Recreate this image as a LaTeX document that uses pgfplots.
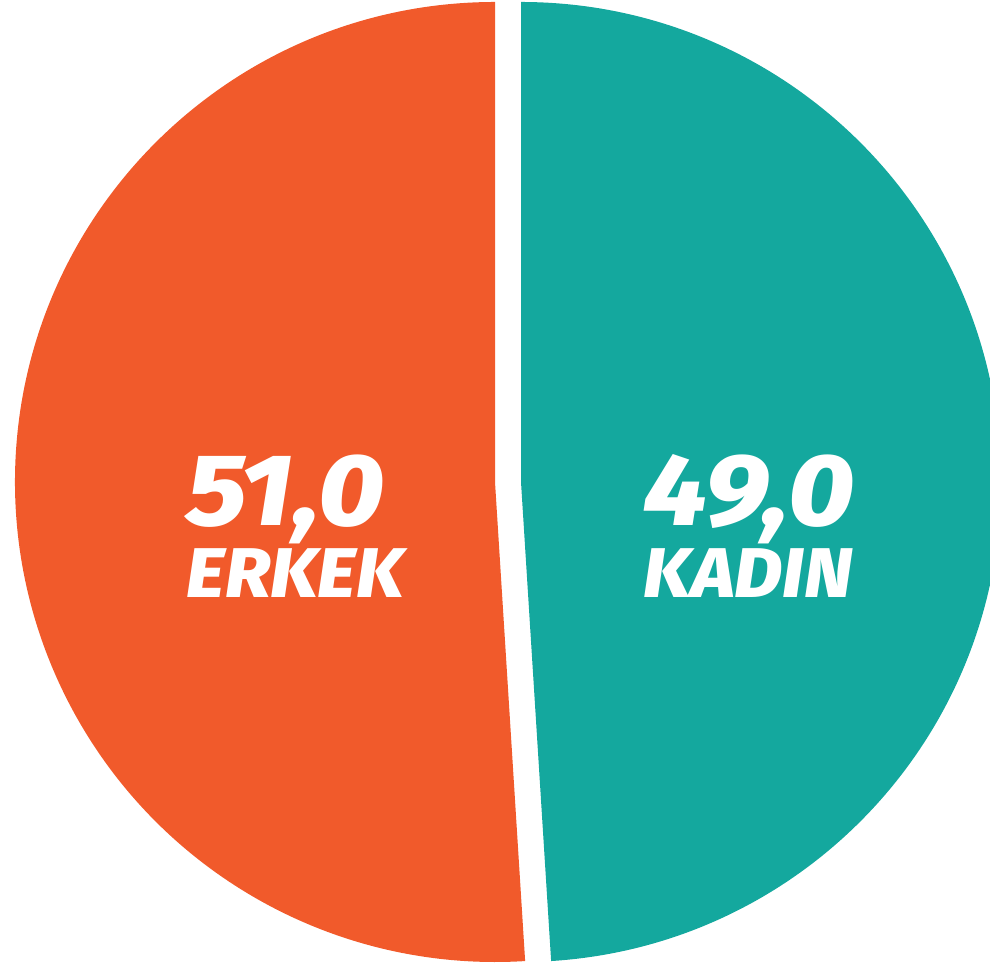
\documentclass[border=0pt]{standalone}
\usepackage{fontspec}
\setmainfont{Fira Sans}
\newfontfamily\lab{Fira Sans ExtraBold Italic}[FakeStretch=1.06]
\newfontfamily\num{Fira Sans ExtraBold Italic}[FakeStretch=1.11]
\usepackage{pgfplots}
\pgfplotsset{compat=1.18}
\definecolor{erkek}{HTML}{F15A2B}
\definecolor{kadin}{HTML}{14A89E}
\begin{document}
\begin{tikzpicture}
\begin{axis}[
  width=9.9cm, height=9.64cm, scale only axis,
  xmin=0, xmax=990, ymin=0, ymax=964,
  hide axis, clip=true,
]
% values (percent)
\pgfmathsetmacro{\vErkek}{51.0}
\pgfmathsetmacro{\vKadin}{49.0}
\pgfmathsetmacro{\aErkek}{3.6*\vErkek}
\pgfmathsetmacro{\aKadin}{3.6*\vKadin}
\def\R{4.8cm}
\fill[erkek] (axis cs:495,482) -- ++(90:\R) arc[start angle=90, delta angle=\aErkek, radius=\R] -- cycle;
\fill[kadin] (axis cs:521,482) -- ++(90:\R) arc[start angle=90, delta angle=-\aKadin, radius=\R] -- cycle;
\node[anchor=base west, inner sep=0pt, text=white, font=\fontsize{29}{30}\num] at (axis cs:186,439) {51,0};
\node[anchor=base west, inner sep=0pt, text=white, font=\fontsize{20}{22}\lab] at (axis cs:186,367) {ERKEK};
\node[anchor=base west, inner sep=0pt, text=white, font=\fontsize{29}{30}\num] at (axis cs:643,439) {49,0};
\node[anchor=base west, inner sep=0pt, text=white, font=\fontsize{20}{22}\lab] at (axis cs:643,367) {KADIN};
\end{axis}
\pgfresetboundingbox
\useasboundingbox (current axis.south west) rectangle (current axis.north east);
\end{tikzpicture}
\end{document}
